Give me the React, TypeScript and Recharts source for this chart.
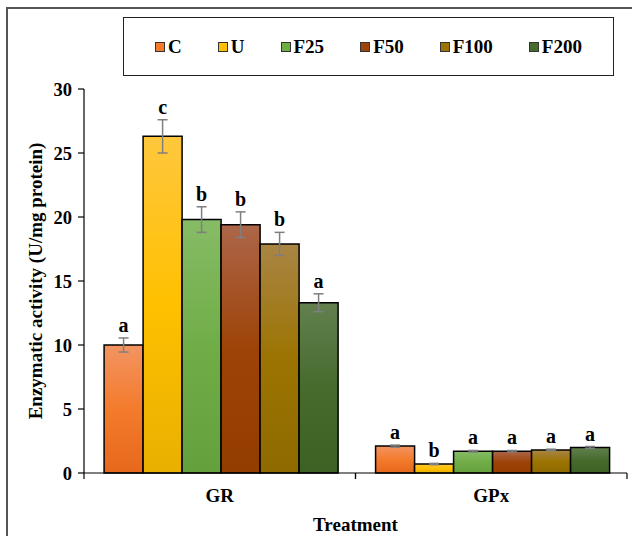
import React from 'react';
import { BarChart, Bar, XAxis, YAxis, ErrorBar } from 'recharts';

const categories = ['GR', 'GPx'];
const seriesNames = ['C', 'U', 'F25', 'F50', 'F100', 'F200'];

const cMeans = [10.0, 2.1];
const uMeans = [26.3, 0.7];
const f25Means = [19.8, 1.7];
const f50Means = [19.4, 1.7];
const f100Means = [17.9, 1.8];
const f200Means = [13.3, 2.0];

const cErrors = [0.55, 0.08];
const uErrors = [1.3, 0.05];
const f25Errors = [1.0, 0.06];
const f50Errors = [1.0, 0.06];
const f100Errors = [0.9, 0.06];
const f200Errors = [0.7, 0.07];

const cLetters = ['a', 'a'];
const uLetters = ['c', 'b'];
const f25Letters = ['b', 'a'];
const f50Letters = ['b', 'a'];
const f100Letters = ['b', 'a'];
const f200Letters = ['a', 'a'];

const yTicks = [0, 5, 10, 15, 20, 25, 30];

const allMeans = [cMeans, uMeans, f25Means, f50Means, f100Means, f200Means];
const allErrors = [cErrors, uErrors, f25Errors, f50Errors, f100Errors, f200Errors];
const allLetters = [cLetters, uLetters, f25Letters, f50Letters, f100Letters, f200Letters];

// [top, middle, bottom] gradient colours
const gradients = [
  ['#F29462', '#F47B2C', '#E6681C'],
  ['#FFC73D', '#FFC000', '#E8B000'],
  ['#86BC66', '#70AD47', '#64A03C'],
  ['#AD6649', '#9E4308', '#943D00'],
  ['#A98545', '#9C7402', '#8E6A00'],
  ['#62804F', '#456B2D', '#3B6224'],
];
const legendColors = ['#F47B2C', '#FFC000', '#70AD47', '#9E4308', '#9C7402', '#456B2D'];

const FONT = "'Times New Roman', 'Liberation Serif', serif";

const data = categories.map((cat, i) => {
  const row: any = { category: cat };
  seriesNames.forEach((s, k) => {
    row[s] = allMeans[k][i];
    row[s + '_err'] = allErrors[k][i];
  });
  return row;
});

const CategoryTick = (props: any) => {
  const { x, y, payload } = props;
  const off = payload && typeof payload.offset === 'number' && payload.offset > 0 ? payload.offset : 135.75;
  return (
    <g>
      <line x1={x - off} x2={x - off} y1={y} y2={y + 6} stroke="#000" strokeWidth={1.2} />
      <line x1={x + off} x2={x + off} y1={y} y2={y + 6} stroke="#000" strokeWidth={1.2} />
      <text x={x} y={y + 29} textAnchor="middle" fontFamily={FONT} fontWeight="bold" fontSize={19} fill="#000">
        {payload.value}
      </text>
    </g>
  );
};

const makeLetterLabel = (k: number) => (props: any) => {
  const vb = props.viewBox || props;
  const x = vb.x ?? props.x;
  const y = vb.y ?? props.y;
  const w = vb.width ?? props.width;
  const h = vb.height ?? props.height;
  const idx = props.index ?? 0;
  const v = allMeans[k][idx];
  const e = allErrors[k][idx];
  const errPx = v ? (h * e) / v : 0;
  return (
    <text
      x={x + w / 2}
      y={y - errPx - 6}
      textAnchor="middle"
      fontFamily={FONT}
      fontWeight="bold"
      fontSize={20}
      fill="#000"
    >
      {allLetters[k][idx]}
    </text>
  );
};

const YLabel = (props: any) => {
  const vb = props.viewBox || { x: 0, y: 89, width: 84, height: 384 };
  const cx = vb.x + 35;
  const cy = vb.y + vb.height / 2;
  return (
    <text
      x={cx}
      y={cy}
      transform={`rotate(-90, ${cx}, ${cy})`}
      textAnchor="middle"
      dominantBaseline="central"
      fontFamily={FONT}
      fontWeight="bold"
      fontSize={19}
      fill="#000"
    >
      Enzymatic activity (U/mg protein)
    </text>
  );
};

const XLabel = (props: any) => {
  const vb = props.viewBox || { x: 84, y: 473, width: 543, height: 60 };
  return (
    <text
      x={vb.x + vb.width / 2}
      y={vb.y + 58}
      textAnchor="middle"
      fontFamily={FONT}
      fontWeight="bold"
      fontSize={19}
      fill="#000"
    >
      Treatment
    </text>
  );
};

export default function App() {
  return (
    <div style={{ position: 'absolute', left: 0, top: 0, width: 632, height: 536, background: '#fff', overflow: 'hidden' }}>
      <div
        style={{
          position: 'absolute',
          left: 6,
          top: 7,
          right: -4,
          bottom: -4,
          borderLeft: '2px solid #555',
          borderTop: '2px solid #555',
        }}
      />
      <div
        style={{
          position: 'absolute',
          left: 123,
          top: 17,
          width: 491,
          height: 59,
          border: '1.5px solid #222',
          boxSizing: 'border-box',
          display: 'flex',
          alignItems: 'center',
          justifyContent: 'center',
          gap: 36,
          fontFamily: FONT,
          fontWeight: 'bold',
          fontSize: 19,
          color: '#000',
          background: '#fff',
        }}
      >
        {seriesNames.map((s, k) => (
          <span key={s} style={{ display: 'flex', alignItems: 'center' }}>
            <span
              style={{
                display: 'inline-block',
                width: 8,
                height: 8,
                background: legendColors[k],
                border: '1px solid #333',
                marginRight: 3,
              }}
            />
            {s}
          </span>
        ))}
      </div>
      <div style={{ position: 'absolute', left: 0, top: 0 }}>
        <BarChart
          width={632}
          height={536}
          data={data}
          margin={{ top: 89, right: 5, left: 0, bottom: 3 }}
          barCategoryGap="7.4%"
          barGap={0}
        >
          <defs>
            {gradients.map((g, k) => (
              <linearGradient key={k} id={`grad-${k}`} x1="0" y1="0" x2="0" y2="1">
                <stop offset="0%" stopColor={g[0]} />
                <stop offset="50%" stopColor={g[1]} />
                <stop offset="100%" stopColor={g[2]} />
              </linearGradient>
            ))}
          </defs>
          <XAxis
            dataKey="category"
            height={60}
            interval={0}
            tickLine={false}
            tickSize={0}
            tickMargin={0}
            axisLine={{ stroke: '#000', strokeWidth: 1.2 }}
            tick={<CategoryTick />}
            label={XLabel}
          />
          <YAxis
            width={84}
            domain={[0, 30]}
            ticks={yTicks}
            interval={0}
            tickSize={6}
            tickMargin={6}
            axisLine={{ stroke: '#000', strokeWidth: 1.2 }}
            tickLine={{ stroke: '#000', strokeWidth: 1.2 }}
            tick={{ fontFamily: FONT, fontWeight: 'bold', fontSize: 18.5, fill: '#000' }}
            label={YLabel}
          />
          {seriesNames.map((s, k) => (
            <Bar
              key={s}
              dataKey={s}
              fill={`url(#grad-${k})`}
              stroke="#000"
              strokeWidth={1.5}
              isAnimationActive={false}
              label={makeLetterLabel(k)}
            >
              <ErrorBar dataKey={s + '_err'} width={5} stroke="#7f7f7f" strokeWidth={1.5} direction="y" />
            </Bar>
          ))}
        </BarChart>
      </div>
    </div>
  );
}
